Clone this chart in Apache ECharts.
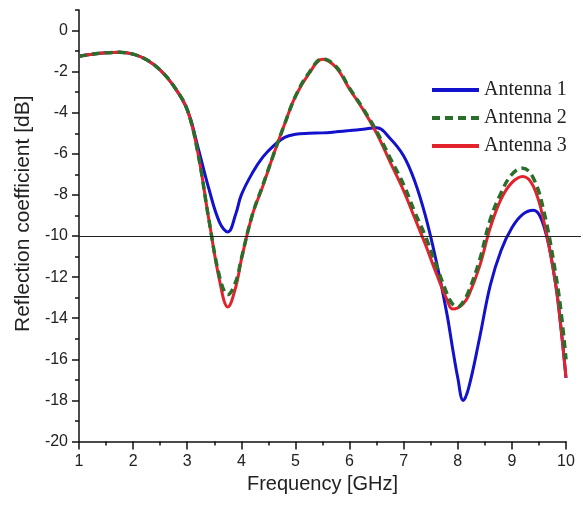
<!DOCTYPE html>
<html>
<head>
<meta charset="utf-8">
<script src="https://cdn.jsdelivr.net/npm/echarts@6/dist/echarts.min.js"></script>
<style>
html,body{margin:0;padding:0;background:#fff;}
#chart{width:583px;height:505px;}
</style>
</head>
<body>
<div id="chart"></div>
<script>
var freq = [1, 1.25, 1.5, 1.75, 2, 2.25, 2.5, 2.75, 3, 3.2, 3.4, 3.6, 3.75, 3.9, 4, 4.2, 4.4, 4.6, 4.8, 5, 5.25, 5.5, 5.75, 6, 6.25, 6.5, 6.75, 7, 7.2, 7.4, 7.6, 7.8, 7.9, 8, 8.1, 8.2, 8.4, 8.6, 8.8, 9, 9.2, 9.4, 9.6, 9.8, 9.9, 10];
var antenna1 = [-1.25, -1.15, -1.08, -1.06, -1.15, -1.42, -1.92, -2.7, -3.85, -5.7, -7.7, -9.35, -9.8, -8.9, -8.0, -6.95, -6.15, -5.6, -5.2, -5.05, -5.0, -4.98, -4.93, -4.87, -4.8, -4.73, -5.25, -6.1, -7.3, -9.0, -11.2, -13.8, -15.4, -16.9, -18.0, -17.4, -15.0, -12.4, -10.7, -9.6, -8.95, -8.75, -9.6, -12.2, -14.3, -16.9];
var antenna2 = [-1.25, -1.15, -1.08, -1.06, -1.15, -1.42, -1.92, -2.7, -3.85, -6.0, -9.2, -12.0, -12.85, -12.2, -11.1, -9.0, -7.5, -6.0, -4.55, -3.2, -2.05, -1.38, -1.75, -2.8, -3.8, -4.9, -6.2, -7.5, -8.8, -10.0, -11.4, -12.8, -13.3, -13.45, -13.2, -12.7, -11.2, -9.2, -7.9, -7.0, -6.7, -7.2, -8.9, -11.7, -13.5, -16.0];
var antenna3 = [-1.25, -1.15, -1.08, -1.06, -1.15, -1.42, -1.92, -2.7, -3.85, -6.0, -9.2, -12.2, -13.45, -12.45, -11.15, -9.0, -7.55, -6.0, -4.55, -3.2, -2.1, -1.4, -1.8, -2.85, -3.85, -5.0, -6.4, -7.8, -9.1, -10.4, -11.8, -13.1, -13.55, -13.5, -13.3, -12.9, -11.5, -9.6, -8.2, -7.4, -7.1, -7.6, -9.4, -12.2, -14.3, -16.9];
var seriesNames = ['Antenna 1', 'Antenna 2', 'Antenna 3'];
var refLevel = -10;
var yMajorTicks = [-20, -18, -16, -14, -12, -10, -8, -6, -4, -2, 0];

function pairs(ys) { return freq.map(function (f, i) { return [f, ys[i]]; }); }

var chart = echarts.init(document.getElementById('chart'), null, {renderer: 'canvas'});
var gridTop = 10, gridBottom = 63.5, gridLeft = 79;
var sansFont = '"Liberation Sans", Arial, sans-serif';
var option = {
  animation: false,
  backgroundColor: '#ffffff',
  grid: [
    {left: gridLeft, right: 17, top: gridTop, bottom: gridBottom},
    {left: gridLeft, right: 2, top: gridTop, bottom: gridBottom}
  ],
  legend: {
    data: seriesNames,
    orient: 'vertical',
    left: 430,
    top: 80,
    padding: 0,
    itemWidth: 47,
    itemHeight: 14,
    itemGap: 8,
    itemStyle: {color: 'transparent', borderColor: 'transparent', borderWidth: 0, opacity: 0},
    lineStyle: {width: 4},
    textStyle: {fontFamily: '"Liberation Serif", "Times New Roman", serif', fontSize: 20, color: '#222'}
  },
  xAxis: [
    {
      type: 'value', gridIndex: 0, min: 1, max: 10, interval: 1,
      name: 'Frequency [GHz]', nameLocation: 'middle', nameGap: 30,
      nameTextStyle: {fontFamily: sansFont, fontSize: 20, color: '#222'},
      axisLine: {show: true, onZero: false, lineStyle: {color: '#111', width: 1.5}},
      axisTick: {show: true, inside: false, length: 8, lineStyle: {color: '#111', width: 1.5}},
      minorTick: {show: true, splitNumber: 2, length: 4, lineStyle: {color: '#111', width: 1.5}},
      axisLabel: {margin: 12, fontFamily: sansFont, fontSize: 16, color: '#222'},
      splitLine: {show: false}
    },
    {
      type: 'value', gridIndex: 1, min: 1, max: 10, show: false
    }
  ],
  yAxis: [
    {
      type: 'value', gridIndex: 0, min: -20, max: 1, interval: 1,
      name: 'Reflection coefficient [dB]', nameLocation: 'middle', nameGap: 42, nameRotate: 90,
      nameTextStyle: {fontFamily: sansFont, fontSize: 21, color: '#222', padding: [0, 0, 0, 24]},
      axisLine: {show: true, onZero: false, lineStyle: {color: '#111', width: 1.5}},
      axisTick: {show: true, inside: false, length: 4, lineStyle: {color: '#111', width: 1.5}},
      axisLabel: {
        margin: 11, fontFamily: sansFont, fontSize: 16, color: '#222',
        formatter: function (v) { return yMajorTicks.indexOf(v) >= 0 ? String(v) : ''; }
      },
      splitLine: {show: false}
    },
    {
      type: 'value', gridIndex: 0, min: -20, max: 1, position: 'left',
      axisLine: {show: false},
      axisTick: {show: true, inside: false, length: 7, customValues: yMajorTicks, lineStyle: {color: '#111', width: 1.5}},
      axisLabel: {show: false},
      splitLine: {show: false}
    },
    {
      type: 'value', gridIndex: 1, min: -20, max: 1, show: false
    }
  ],
  series: [
    {
      name: 'Reference', type: 'line', xAxisIndex: 1, yAxisIndex: 2, data: [], silent: true,
      markLine: {silent: true, symbol: 'none', label: {show: false},
        lineStyle: {color: '#222', width: 1.2, type: 'solid'},
        data: [{yAxis: refLevel}]}
    },
    {
      name: seriesNames[0], type: 'line', xAxisIndex: 0, yAxisIndex: 0, data: pairs(antenna1),
      smooth: 0.4, symbol: 'none', lineStyle: {color: '#1212cc', width: 3}, itemStyle: {color: '#1212cc'}
    },
    {
      name: seriesNames[2], type: 'line', xAxisIndex: 0, yAxisIndex: 0, data: pairs(antenna3),
      smooth: 0.4, symbol: 'none', lineStyle: {color: '#e3232b', width: 3}, itemStyle: {color: '#e3232b'}
    },
    {
      name: seriesNames[1], type: 'line', xAxisIndex: 0, yAxisIndex: 0, data: pairs(antenna2),
      smooth: 0.4, symbol: 'none', lineStyle: {color: '#2b6e2b', width: 3.5, type: [8, 5]}, itemStyle: {color: '#2b6e2b'}
    }
  ]
};
chart.setOption(option);
</script>
</body>
</html>
